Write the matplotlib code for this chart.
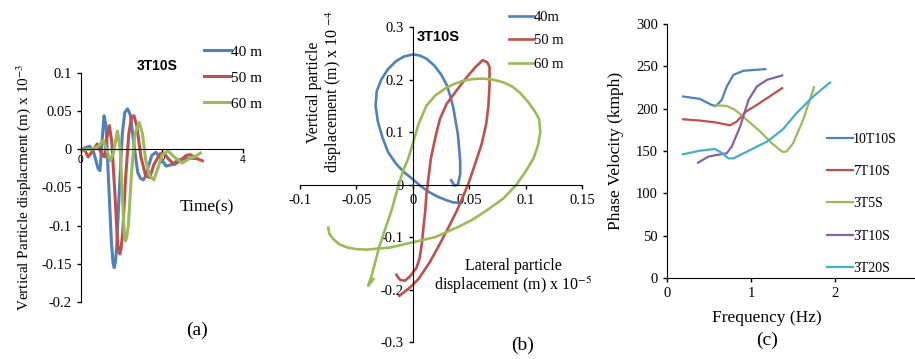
import numpy as np
import matplotlib
matplotlib.use("Agg")
from matplotlib import pyplot as plt

plt.rcParams['font.family'] = ['Liberation Serif', 'DejaVu Serif']
plt.rcParams['mathtext.fontset'] = 'stix'
plt.rcParams['axes.unicode_minus'] = False

BLUE = "#4F81BD"
RED = "#C0504D"
GREEN = "#9BBB59"
PURPLE = "#8064A2"
CYAN = "#4BACC6"

# (a) vertical displacement time history, 3T10S
t40 = [0, 0.1, 0.22, 0.32, 0.42, 0.47, 0.52, 0.57, 0.62, 0.68, 0.75, 0.79, 0.82, 0.85, 0.88,
       0.95, 1.02, 1.08, 1.15, 1.22, 1.3, 1.4, 1.47, 1.54, 1.6, 1.65, 1.75, 1.85, 1.95, 2.1,
       2.25, 2.4, 2.6, 2.8]
v40 = [0, 0.002, 0.004, -0.005, -0.025, -0.028, 0.01, 0.044, 0.03, -0.04, -0.12, -0.148, -0.155,
       -0.148, -0.13, -0.05, 0.02, 0.048, 0.053, 0.045, 0.01, -0.03, -0.038, -0.04, -0.035,
       -0.025, -0.008, -0.004, -0.01, -0.022, -0.02, -0.014, -0.012, -0.012]
t50 = [0, 0.1, 0.18, 0.25, 0.4, 0.5, 0.58, 0.64, 0.7, 0.76, 0.84, 0.9, 0.93, 0.96, 0.99, 1.03,
       1.1, 1.18, 1.25, 1.31, 1.38, 1.48, 1.6, 1.7, 1.8, 1.95, 2.05, 2.15, 2.3, 2.45, 2.6, 2.7,
       2.85, 3.0]
v50 = [0, -0.002, -0.01, -0.005, 0.007, -0.005, -0.01, 0.015, 0.031, 0.01, -0.06, -0.12, -0.133,
       -0.137, -0.13, -0.11, -0.04, 0.02, 0.042, 0.044, 0.03, -0.01, -0.035, -0.037, -0.02,
       -0.006, -0.005, -0.012, -0.02, -0.015, -0.008, -0.007, -0.012, -0.015]
t60 = [0, 0.3, 0.45, 0.55, 0.62, 0.72, 0.8, 0.9, 0.97, 1.03, 1.07, 1.1, 1.13, 1.17, 1.25, 1.33,
       1.44, 1.52, 1.6, 1.7, 1.8, 1.9, 2.0, 2.15, 2.3, 2.5, 2.65, 2.8, 2.95]
v60 = [0, 0, 0.005, 0.012, 0.002, -0.015, -0.005, 0.024, 0.0, -0.07, -0.11, -0.12, -0.115, -0.1,
       -0.03, 0.02, 0.035, 0.02, -0.015, -0.035, -0.04, -0.025, -0.008, -0.002, -0.01, -0.018,
       -0.013, -0.01, -0.005]

# (b) particle orbits (lateral x 1e-5, vertical x 1e-4)
lat40 = [0.042, 0.036, 0.03, 0.022, 0.015, 0.007, 0.0, -0.008, -0.015, -0.022, -0.027, -0.031,
         -0.033, -0.032, -0.028, -0.022, -0.015, -0.008, 0.0, 0.006, 0.012, 0.019, 0.025,
         0.03, 0.033, 0.036, 0.038, 0.04, 0.041, 0.042, 0.042, 0.04, 0.037, 0.034]
ver40 = [-0.035, -0.034, -0.03, -0.023, -0.015, -0.003, 0.01, 0.024, 0.04, 0.062, 0.09, 0.12,
         0.15, 0.178, 0.2, 0.22, 0.235, 0.244, 0.248, 0.246, 0.24, 0.227, 0.21, 0.19, 0.17,
         0.145, 0.12, 0.095, 0.07, 0.045, 0.02, 0.0, -0.002, 0.008]
lat50 = [-0.012, -0.003, 0.005, 0.015, 0.024, 0.032, 0.039, 0.044, 0.049, 0.055, 0.061, 0.065,
         0.067, 0.068, 0.068, 0.066, 0.062, 0.056, 0.048, 0.039, 0.03, 0.024, 0.02, 0.016,
         0.014, 0.012, 0.011, 0.0095, 0.008, 0.006, 0.0034, -0.0025, -0.007, -0.011, -0.013,
         -0.0145]
ver50 = [-0.212, -0.197, -0.18, -0.148, -0.113, -0.08, -0.05, -0.025, 0.0, 0.038, 0.077, 0.115,
         0.15, 0.19, 0.224, 0.233, 0.237, 0.225, 0.205, 0.18, 0.154, 0.125, 0.09, 0.05, 0.015,
         -0.02, -0.05, -0.08, -0.113, -0.14, -0.158, -0.175, -0.183, -0.182, -0.177, -0.172]
lat60 = [-0.075, -0.074, -0.07, -0.065, -0.058, -0.05, -0.041, -0.03, -0.02, -0.01, 0.0, 0.02,
         0.039, 0.052, 0.065, 0.08, 0.092, 0.1, 0.107, 0.111, 0.113, 0.112, 0.108, 0.102,
         0.095, 0.088, 0.08, 0.071, 0.062, 0.053, 0.045, 0.037, 0.03, 0.02, 0.012, 0.005, 0.0,
         -0.004, -0.008, -0.0125, -0.019, -0.026, -0.03, -0.033, -0.036, -0.0396, -0.037,
         -0.035]
ver60 = [-0.082, -0.094, -0.105, -0.114, -0.12, -0.123, -0.124, -0.122, -0.12, -0.115, -0.11,
         -0.1, -0.082, -0.068, -0.05, -0.027, 0.0, 0.025, 0.05, 0.075, 0.1, 0.125, 0.14, 0.158,
         0.175, 0.187, 0.195, 0.2, 0.202, 0.201, 0.198, 0.192, 0.185, 0.17, 0.15, 0.115, 0.078,
         0.05, 0.03, 0.0, -0.05, -0.094, -0.12, -0.145, -0.17, -0.193, -0.186, -0.18]

# (c) dispersion curves
f10t10 = [0.19, 0.39, 0.53, 0.58, 0.65, 0.71, 0.79, 0.91, 1.07, 1.17]
c10t10 = [214.4, 211.6, 204.5, 203, 210, 226, 240, 244.8, 246, 246.7]
f7t10 = [0.19, 0.39, 0.59, 0.75, 0.83, 0.94, 1.07, 1.19, 1.37]
c7t10 = [187.5, 186, 183.6, 180.4, 184.8, 196.6, 204.5, 212.4, 224.2]
f3t5 = [0.57, 0.71, 0.81, 0.95, 1.11, 1.25, 1.37, 1.42, 1.5, 1.62, 1.75]
c3t5 = [204, 203.3, 198.6, 186.7, 172.9, 159, 149.2, 149.2, 159, 186.7, 225.4]
f3t10 = [0.37, 0.49, 0.59, 0.71, 0.77, 0.87, 0.97, 1.07, 1.19, 1.37]
c3t10 = [136.2, 143.3, 145.3, 147.3, 155.1, 178.8, 210.4, 226.2, 234.1, 239.2]
f3t20 = [0.19, 0.39, 0.57, 0.65, 0.73, 0.79, 0.95, 1.19, 1.38, 1.54, 1.74, 1.94]
c3t20 = [146.1, 150.4, 152.4, 148, 141.3, 141.3, 149.2, 161.1, 175.7, 194.6, 214.4, 230.9]

fig = plt.figure(figsize=(9.15, 3.59), dpi=100)

# ---------------- (a)
ax1 = fig.add_axes([0.0885, 0.1588, 0.177, 0.638])
ax1.plot(t40, v40, color=BLUE, lw=2.2, label='40 m')
ax1.plot(t50, v50, color=RED, lw=2.2, label='50 m')
ax1.plot(t60, v60, color=GREEN, lw=2.2, label='60 m')
ax1.set_xlim(0, 4)
ax1.set_ylim(-0.2, 0.1)
ax1.spines['bottom'].set_position(('data', 0))
ax1.spines['top'].set_visible(False)
ax1.spines['right'].set_visible(False)
ax1.set_xticks([0, 2, 4])
ax1.set_yticks([-0.2, -0.15, -0.1, -0.05, 0, 0.05, 0.1])
ax1.set_yticklabels(['-0.2', '-0.15', '-0.1', '-0.05', '0', '0.05', '0.1'], fontsize=10.5)
for lab in ax1.get_xticklabels():
    lab.set_family(['Liberation Sans'])
    lab.set_fontsize(7.5)
ax1.tick_params(length=3, width=1)
ax1.tick_params(axis='x', pad=1)
ax1.set_ylabel(r'Vertical Particle displacment (m) x 10$^{-3}$', fontsize=11, labelpad=6)
ax1.text(0.47, 1.03, '3T10S', transform=ax1.transAxes, ha='center', va='center',
         fontsize=10, fontweight='bold', family=['Liberation Sans'])
ax1.legend(loc='upper left', bbox_to_anchor=(0.215, 0.896), bbox_transform=fig.transFigure,
           frameon=False, fontsize=11, handlelength=1.75, handletextpad=0.0,
           labelspacing=0.8, borderpad=0)
fig.text(207 / 915, 1 - 207 / 359, 'Time(s)', ha='center', va='center', fontsize=12.5)
fig.text(197 / 915, 1 - 330 / 359, '(a)', ha='center', va='center', fontsize=14)

# ---------------- (b)
ax2 = fig.add_axes([0.3279, 0.0474, 0.3082, 0.877])
ax2.plot(lat40, ver40, color=BLUE, lw=1.9, label='40m')
ax2.plot(lat50, ver50, color=RED, lw=1.9, label='50 m')
ax2.plot(lat60, ver60, color=GREEN, lw=1.9, label='60 m')
ax2.set_xlim(-0.1, 0.15)
ax2.set_ylim(-0.3, 0.3)
ax2.spines['bottom'].set_position(('data', 0))
ax2.spines['left'].set_position(('data', 0))
ax2.spines['top'].set_visible(False)
ax2.spines['right'].set_visible(False)
ax2.set_xticks([-0.1, -0.05, 0, 0.05, 0.1, 0.15])
ax2.set_xticklabels(['-0.1', '-0.05', '0', '0.05', '0.1', '0.15'], fontsize=10.5)
ax2.set_yticks([-0.3, -0.2, -0.1, 0, 0.1, 0.2, 0.3])
ax2.set_yticklabels(['-0.3', '-0.2', '-0.1', '0', '0.1', '0.2', '0.3'], fontsize=10.5)
ax2.tick_params(length=3, width=1)
ax2.text(0.49, 0.97, '3T10S', transform=ax2.transAxes, ha='center', va='center',
         fontsize=10.5, fontweight='bold', family=['Liberation Sans'])
ax2.legend(loc='upper left', bbox_to_anchor=(0.548, 0.99), bbox_transform=fig.transFigure,
           frameon=False, fontsize=10.5, handlelength=1.75, handletextpad=0.0,
           labelspacing=0.69, borderpad=0)
fig.text(325 / 915, 1 - 92 / 359, 'Vertical particle\ndisplacement (m) x 10 $^{-4}$',
         rotation=90, ha='center', va='center', fontsize=11.5, linespacing=1.1)
fig.text(513 / 915, 1 - 277 / 359, 'Lateral particle\ndisplacement (m) x 10$^{-5}$',
         ha='center', va='center', fontsize=11.5, linespacing=1.1)
fig.text(523 / 915, 1 - 345 / 359, '(b)', ha='center', va='center', fontsize=14)

# ---------------- (c)
ax3 = fig.add_axes([0.729, 0.2256, 0.2754, 0.7075])
ax3.plot(f10t10, c10t10, color=BLUE, lw=1.6, label='10T10S')
ax3.plot(f7t10, c7t10, color=RED, lw=1.6, label='7T10S')
ax3.plot(f3t5, c3t5, color=GREEN, lw=1.6, label='3T5S')
ax3.plot(f3t10, c3t10, color=PURPLE, lw=1.6, label='3T10S')
ax3.plot(f3t20, c3t20, color=CYAN, lw=1.6, label='3T20S')
ax3.set_xlim(0, 3)
ax3.set_ylim(0, 300)
ax3.spines['top'].set_visible(False)
ax3.spines['right'].set_visible(False)
ax3.set_xticks([0, 1, 2])
ax3.set_yticks(range(0, 301, 50))
ax3.tick_params(labelsize=10.5, length=3, width=1)
ax3.set_ylabel('Phase Velocity (kmph)', fontsize=12.5, labelpad=9)
ax3.legend(loc='upper left', bbox_to_anchor=(0.896, 0.65), bbox_transform=fig.transFigure,
           frameon=False, fontsize=10, handlelength=1.9, handletextpad=0.0,
           labelspacing=1.39, borderpad=0)
fig.text(767 / 915, 1 - 318 / 359, 'Frequency (Hz)', ha='center', va='center', fontsize=12.5)
fig.text(767 / 915, 1 - 340 / 359, '(c)', ha='center', va='center', fontsize=14)

fig.savefig('out.png', dpi=100)
